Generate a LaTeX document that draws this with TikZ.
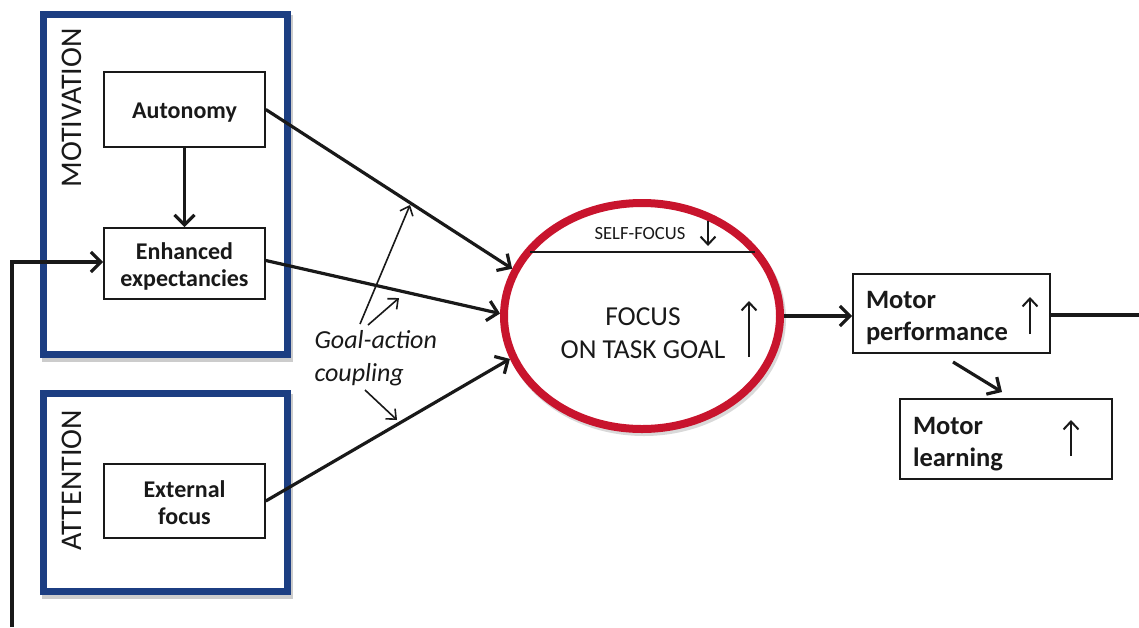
\documentclass[tikz,border=0pt]{standalone}
\usepackage{fontspec}
\setmainfont{Carlito}
\usetikzlibrary{arrows.meta,shadows,shapes.geometric}
\definecolor{frameblue}{RGB}{28,62,130}
\definecolor{focusred}{RGB}{200,20,45}
\definecolor{ink}{RGB}{25,25,25}
% invisible strut that lowers a node's text inside its frame
\newcommand{\lowerby}[1]{\rule{0pt}{#1}}

\begin{document}
\begin{tikzpicture}[x=1pt,y=-1pt,
  group/.style={draw=frameblue, line width=7pt, fill=white, inner sep=0pt,
    drop shadow={draw=black, line width=7pt, fill=none, opacity=0.2,
      shadow xshift=2pt, shadow yshift=-4pt}},
  grouplabel/.style={rotate=90, text=ink, font=\fontsize{30}{34}\selectfont},
  box/.style={draw=ink, line width=1.6pt, fill=white, inner sep=0pt, text=ink,
    align=center, font=\bfseries\fontsize{24}{27}\selectfont},
  outbox/.style={box, align=left, inner xsep=13pt,
    font=\bfseries\fontsize{26.5}{32}\selectfont},
  conn/.style={draw=ink, line width=3.2pt, -{Straight Barb[length=10pt,width=20pt]}},
  thin/.style={draw=ink, line width=1.6pt, -{Straight Barb[length=8pt,width=14pt]}},
  level/.style={draw=ink, line width=2pt, -{Straight Barb[length=8pt,width=15pt]}}
]
\useasboundingbox (0,0) rectangle (1139,627);

% grouping frames
\node[group, minimum width=244pt, minimum height=340pt] (motiv) at (165,184) {};
\node[group, minimum width=244pt, minimum height=198pt] (attn) at (165,492) {};
\node[grouplabel] (motivlbl) at (72,108) {MOTIVATION};
\node[grouplabel] (attnlbl) at (72,480) {ATTENTION};

% factor boxes
\node[box, minimum width=161pt, minimum height=75pt] (auto) at (184.5,109.5) {\lowerby{22pt}Autonomy};
\node[box, minimum width=161pt, minimum height=71pt] (enh) at (184.5,263.5) {\lowerby{22pt}Enhanced\\expectancies};
\node[box, minimum width=161pt, minimum height=74pt] (ext) at (184.5,501) {\lowerby{21pt}External\\focus};

% central focus ellipse
\node[ellipse, draw=focusred, line width=8pt, fill=white, inner sep=0pt,
  minimum width=276pt, minimum height=226pt,
  drop shadow={draw=black, line width=8pt, fill=none, opacity=0.15,
    shadow xshift=2pt, shadow yshift=-3pt}] (focus) at (642,316) {};
\draw[ink, line width=1.4pt] (530,252) -- (755,252);
\node[text=ink, font=\fontsize{18.6}{22}\selectfont] (self) at (640,234) {SELF-FOCUS};
\coordinate (sfa) at (708,221);
\coordinate (sfb) at (708,246);
\draw[level] (sfa) -- (sfb);
\node[text=ink, align=center, font=\fontsize{27.4}{33}\selectfont] (task) at (643,333.5) {FOCUS\\ON TASK GOAL};
\coordinate (tga) at (749,357);
\coordinate (tgb) at (749,301);
\draw[level] (tga) -- (tgb);

% outcome boxes
\node[outbox, minimum width=197pt, minimum height=79pt, text width=171pt] (perf) at (951.5,313.5) {\lowerby{26pt}Motor\\performance};
\coordinate (pfa) at (1030,334);
\coordinate (pfb) at (1030,297);
\draw[level] (pfa) -- (pfb);
\node[outbox, minimum width=212pt, minimum height=80pt, text width=186pt] (learn) at (1006,439) {\lowerby{28pt}Motor\\learning};
\coordinate (lna) at (1071,456);
\coordinate (lnb) at (1071,420);
\draw[level] (lna) -- (lnb);

% goal-action coupling label and its arrows
\node[anchor=west, text=ink, align=left, font=\itshape\fontsize{26}{33}\selectfont] (gac) at (311,358) {Goal-action\\coupling};
\coordinate (g1s) at (360,324);
\coordinate (g1e) at (410,205);
\coordinate (g2s) at (368,325);
\coordinate (g2e) at (399,298);
\coordinate (g3s) at (365,390);
\coordinate (g3e) at (397,420);
\draw[thin] (g1s) -- (g1e);
\draw[thin] (g2s) -- (g2e);
\draw[thin] (g3s) -- (g3e);

% main connectors
\draw[conn] (auto.south) -- (enh.north);
\draw[conn] (auto.east) -- (focus.160);
\draw[conn] ([yshift=3pt]enh.east) -- (focus.179);
\draw[conn] (ext.east) -- (focus.198);
\draw[conn] (focus.east) -- (focus.east -| perf.west);
\coordinate (pl1) at (953,362);
\coordinate (pl2) at (1002,392);
\draw[conn] (pl1) -- (pl2);
\coordinate (outr) at (1139,315);
\draw[ink, line width=3.2pt] (perf.east |- outr) -- (outr);
\coordinate (fb) at (12,627);
\draw[conn] (fb) |- ([yshift=1.5pt]enh.west);
\end{tikzpicture}
\end{document}
